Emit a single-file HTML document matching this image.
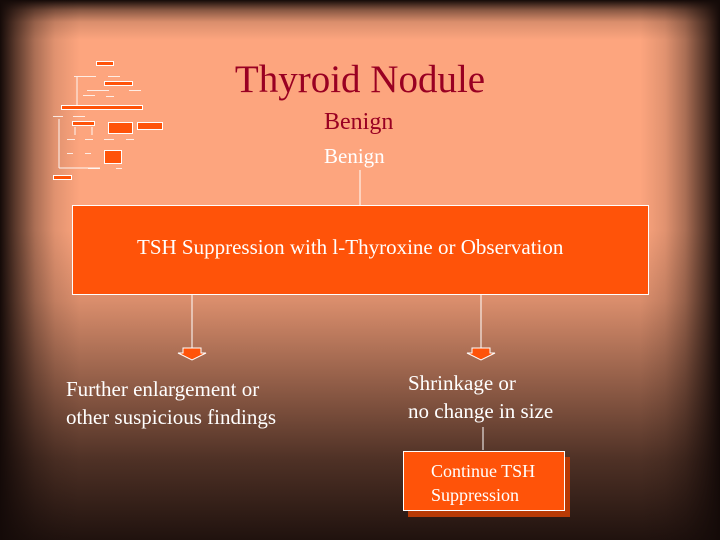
<!DOCTYPE html>
<html><head><style>
html,body{margin:0;padding:0}
body{width:720px;height:540px;position:relative;overflow:hidden;font-family:"Liberation Serif",serif;
background:
linear-gradient(to right,rgba(20,10,8,1) 0px,rgba(20,10,8,0.7) 15px,rgba(20,10,8,0.35) 35px,rgba(20,10,8,0.12) 55px,rgba(20,10,8,0) 80px,rgba(20,10,8,0) 640px,rgba(20,10,8,0.12) 665px,rgba(20,10,8,0.35) 685px,rgba(20,10,8,0.7) 705px,rgba(20,10,8,1) 720px),
linear-gradient(to bottom,rgba(20,10,8,1) 0px,rgba(20,10,8,0.5) 10px,rgba(20,10,8,0.15) 22px,rgba(20,10,8,0) 40px,rgba(20,10,8,0) 230px,rgba(20,10,8,0.15) 300px,rgba(20,10,8,0.45) 380px,rgba(20,10,8,0.75) 460px,rgba(20,10,8,0.95) 540px),
#fda57e;}
.t{position:absolute;white-space:nowrap;line-height:1}
</style></head><body>
<div class="t" style="left:0;width:720px;text-align:center;top:60px;font-size:39px;color:#990022">Thyroid Nodule</div>
<div class="t" style="left:324px;top:110px;font-size:24px;color:#990022">Benign</div>
<div class="t" style="left:324px;top:146px;font-size:21px;color:#fff">Benign</div>
<svg width="720" height="540" style="position:absolute;left:0;top:0">
<line x1="360" y1="170" x2="360" y2="205" stroke="#fff" stroke-width="1"/>
<rect x="72.5" y="205.5" width="576" height="89" fill="#ff5309" stroke="#fff" stroke-width="1"/>
<line x1="192" y1="295" x2="192" y2="348" stroke="#fff"/>
<line x1="481" y1="295" x2="481" y2="348" stroke="#fff"/>
<polygon points="183,348 201,348 201,353 206,353 192,360 178,353 183,353" fill="#ff5309" stroke="#fff" stroke-width="1"/>
<polygon points="472,348 490,348 490,353 495,353 481,360 467,353 472,353" fill="#ff5309" stroke="#fff" stroke-width="1"/>
<line x1="483" y1="427" x2="483" y2="450" stroke="#fff"/>
<rect x="408" y="457" width="162" height="60" fill="#b83a05"/>
<rect x="403.5" y="451.5" width="161" height="59" fill="#ff5309" stroke="#fff"/>
<g fill="#ff5309" stroke="#fff" stroke-width="1">
<rect x="96.5" y="61.5" width="17" height="4"/>
<rect x="104.5" y="81.5" width="28" height="4"/>
<rect x="61.5" y="105.5" width="81" height="4"/>
<rect x="72.5" y="121.5" width="22" height="4"/>
<rect x="108.5" y="122.5" width="24" height="11"/>
<rect x="137.5" y="122.5" width="25" height="7"/>
<rect x="104.5" y="150.5" width="17" height="13"/>
<rect x="53.5" y="175.5" width="18" height="4"/>
</g>
<g stroke="#fff" stroke-width="1" fill="none" opacity="0.9">
<line x1="77" y1="77" x2="77" y2="105"/>
<line x1="59" y1="119" x2="59" y2="168"/>
<line x1="59" y1="168" x2="100" y2="168"/>
<line x1="75" y1="127" x2="75" y2="135"/><line x1="92" y1="127" x2="92" y2="135"/>
</g>
<g fill="#fff" opacity="0.8">
<rect x="74" y="76" width="22" height="1"/><rect x="108" y="76" width="12" height="1"/>
<rect x="87" y="90" width="22" height="1"/><rect x="129" y="90" width="12" height="1"/>
<rect x="83" y="95" width="12" height="1"/><rect x="106" y="96" width="8" height="1"/>
<rect x="53" y="116" width="10" height="1"/><rect x="73" y="116" width="12" height="1"/>
<rect x="67" y="139" width="8" height="1"/><rect x="85" y="139" width="8" height="1"/>
<rect x="104" y="139" width="10" height="1"/><rect x="126" y="139" width="8" height="1"/>
<rect x="67" y="153" width="6" height="1"/><rect x="85" y="153" width="6" height="1"/>
<rect x="88" y="168" width="12" height="1"/><rect x="116" y="168" width="6" height="1"/>
</g>
</svg>
<div class="t" style="left:137px;top:237px;font-size:21px;color:#fff">TSH Suppression with l-Thyroxine or Observation</div>
<div class="t" style="left:66px;top:375px;font-size:21px;color:#fff;line-height:28px">Further enlargement or<br>other suspicious findings</div>
<div class="t" style="left:408px;top:369px;font-size:21px;color:#fff;line-height:28px">Shrinkage or<br>no change in size</div>
<div class="t" style="left:431px;top:459px;font-size:18px;color:#fff;line-height:24px">Continue TSH<br>Suppression</div>
</body></html>
